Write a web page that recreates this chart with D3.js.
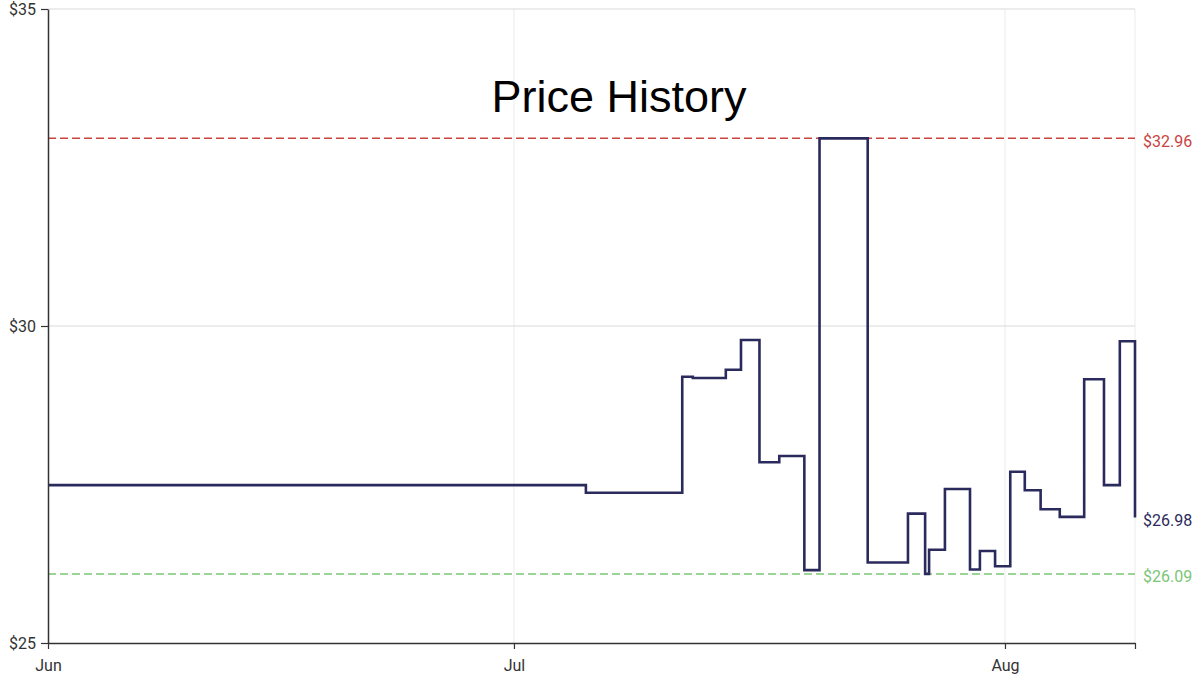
<!DOCTYPE html>
<html><head><meta charset="utf-8">
<script src="https://cdn.jsdelivr.net/npm/d3@7"></script>
<style>html,body{margin:0;padding:0;background:#fff;overflow:hidden}text{font-family:Roboto,"Liberation Sans",sans-serif}</style>
</head><body>
<svg id="c" width="1200" height="681"></svg>
<script>
const dates = ["2023-06-01T14:00","2023-07-05T13:00","2023-07-11T15:00","2023-07-12T07:00","2023-07-14T09:00","2023-07-15T08:00","2023-07-16T12:00","2023-07-17T18:00","2023-07-19T08:00","2023-07-20T07:00","2023-07-23T08:00","2023-07-25T21:00","2023-07-26T23:00","2023-07-27T05:00","2023-07-28T05:00","2023-07-29T19:00","2023-07-30T10:00","2023-07-31T09:00","2023-08-01T08:00","2023-08-02T06:00","2023-08-03T06:00","2023-08-04T11:00","2023-08-06T00:00","2023-08-07T06:00","2023-08-08T06:00","2023-08-09T05:00"];
const prices = [27.49,27.37,29.20,29.18,29.31,29.78,27.85,27.95,26.15,32.96,26.27,27.04,26.09,26.47,27.43,26.16,26.45,26.21,27.70,27.41,27.11,26.99,29.16,27.49,29.76,26.98];
const yTicks = [25,30,35];
const xTickDates = ["2023-06-01T14:00","2023-07-01T00:00","2023-08-01T00:00","2023-08-09T05:00"];
const xTickLabels = ["Jun","Jul","Aug",""];
const refLines = [{value:32.96,label:"$32.96",color:"#c9443f"},{value:26.09,label:"$26.09",color:"#7cc576"}];
const currentPrice = 26.98;
const title = "Price History";

const parse = d3.timeParse("%Y-%m-%dT%H:%M");
const data = dates.map((d,i)=>({date:parse(d),price:prices[i]}));
const svg = d3.select("#c");
const L=48,R=1135,T=9,B=643;
const x = d3.scaleTime().domain([parse(dates[0]),parse(dates[dates.length-1])]).range([L,R]);
const y = d3.scaleLinear().domain([25,35]).range([B,T]);

// grid
const tickD = xTickDates.map(parse);
svg.append("g").selectAll("line").data(tickD.slice(1)).join("line")
  .attr("x1",d=>x(d)).attr("x2",d=>x(d)).attr("y1",T).attr("y2",B)
  .attr("stroke","#ebebeb").attr("stroke-width",1);
svg.append("g").selectAll("line").data(yTicks.slice(1)).join("line")
  .attr("x1",L).attr("x2",R).attr("y1",d=>y(d)).attr("y2",d=>y(d))
  .attr("stroke","#d9d9d9").attr("stroke-width",1);

// title
svg.append("text").attr("x",619).attr("y",112).attr("text-anchor","middle")
  .style("font-family","'Liberation Sans',Arial,sans-serif").style("font-size","45px").attr("fill","#000").text(title);

// reference lines
refLines.forEach(r=>{
  svg.append("line").attr("x1",L).attr("x2",R).attr("y1",y(r.value)).attr("y2",y(r.value))
    .attr("stroke",r.color).attr("stroke-width",1.5).attr("stroke-dasharray","8,4");
  svg.append("text").attr("x",R+8).attr("y",y(r.value)+3).attr("dy","0.35em").style("font-size","16px").attr("fill",r.color).text(r.label);
});

// line
const line = d3.line().x(d=>x(d.date)).y(d=>y(d.price)).curve(d3.curveStepAfter);
svg.append("path").datum(data).attr("d",line).attr("fill","none")
  .attr("stroke","#2b2a5c").attr("stroke-width",2.6).attr("stroke-linejoin","miter");
svg.append("text").attr("x",R+8).attr("y",y(currentPrice)+3).attr("dy","0.35em").style("font-size","16px").attr("fill","#2b2a5c").text("$"+currentPrice.toFixed(2));

// axes
const ya = svg.append("g").attr("transform",`translate(${L},0)`)
  .call(d3.axisLeft(y).tickValues(yTicks).tickFormat(d=>"$"+d).tickSize(7).tickSizeOuter(0));
ya.select(".domain").attr("stroke","#333").attr("stroke-width",1.5);
ya.selectAll(".tick line").attr("stroke","#333").attr("stroke-width",1.2);
ya.selectAll(".tick text").style("font-size","16px").style("font-family","Roboto").attr("fill","#333").attr("x",-12).attr("dy","0.35em");

const xa = svg.append("g").attr("transform",`translate(0,${B})`)
  .call(d3.axisBottom(x).tickValues(tickD).tickFormat((d,i)=>xTickLabels[i]).tickSize(6).tickSizeOuter(0));
xa.select(".domain").attr("stroke","#333").attr("stroke-width",1.5);
xa.selectAll(".tick line").attr("stroke","#333").attr("stroke-width",1.2);
xa.selectAll(".tick text").style("font-size","16px").style("font-family","Roboto").attr("fill","#333").attr("y",17);
</script>
</body></html>
